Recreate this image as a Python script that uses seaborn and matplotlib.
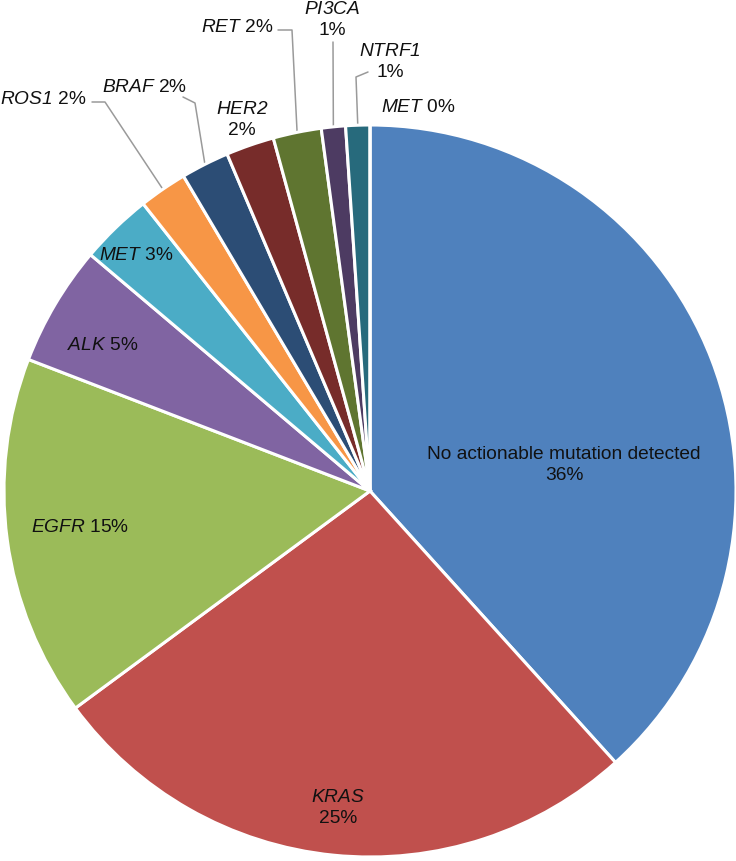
import numpy as np
import seaborn as sns
import matplotlib.pyplot as plt

# Données (ordre horaire depuis le haut)
genes = ['No actionable mutation detected', 'KRAS', 'EGFR', 'ALK', 'MET', 'ROS1',
         'BRAF', 'HER2', 'RET', 'PI3CA', 'NTRF1', 'MET']
percents = [36, 25, 15, 5, 3, 2, 2, 2, 2, 1, 1, 0]
colors = ['#4F81BD', '#C0504D', '#9BBB59', '#8064A2', '#4BACC6', '#F79646',
          '#2C4D75', '#772C2A', '#5F7530', '#4D3B62', '#276A7C', '#4F81BD']

sns.set_style('white')
plt.rcParams['font.family'] = ['Liberation Sans', 'DejaVu Sans']
plt.rcParams['mathtext.fontset'] = 'custom'
plt.rcParams['mathtext.it'] = 'Liberation Sans:italic'
plt.rcParams['mathtext.rm'] = 'Liberation Sans:italic'

W, H = 736, 861
cx, cy, R = 370, 491, 366

fig = plt.figure(figsize=(W / 100, H / 100), dpi=100)
ax = fig.add_axes([0, 0, 1, 1])
wedges, _ = ax.pie(percents, colors=colors, startangle=-90, counterclock=True,
                   center=(cx, cy), radius=R,
                   wedgeprops=dict(edgecolor='white', linewidth=2.2))
ax.set_xlim(0, W)
ax.set_ylim(H, 0)
ax.axis('off')


def lab(i, multiline=False):
    g = genes[i]
    p = f'{percents[i]}%'
    if i == 0:
        return f'{g}\n{p}'
    sep = '\n' if multiline else ' '
    return f'$\\mathrm{{{g}}}$' + sep + p


# position des étiquettes (pixels), et coude de la ligne de rappel
labels = {
    0: ((564, 465), True, None),
    1: ((338, 808), True, None),
    2: ((80, 528), False, None),
    3: ((103, 346), False, None),
    4: ((136, 255), False, None),
    5: ((43, 99), False, [(92, 102), (105, 102)]),
    6: ((145, 87), False, [(183, 97), (195, 103)]),
    7: ((242, 120), True, None),
    8: ((237, 27), False, [(278, 30), (292, 30)]),
    9: ((332, 20), True, [(333, 42)]),
    10: ((390, 62), True, [(368, 72), (356, 77)]),
    11: ((418, 107), False, None),
}

fs = 13.8
for i, (pos, ml, elbow) in labels.items():
    ax.text(pos[0], pos[1], lab(i, ml), ha='center', va='center',
            fontsize=fs, color='#111111', linespacing=1.3)
    if elbow:
        w = wedges[i]
        th = np.deg2rad((w.theta1 + w.theta2) / 2)
        ex, ey = cx + R * np.cos(th), cy + R * np.sin(th)
        xs = [p[0] for p in elbow] + [ex]
        ys = [p[1] for p in elbow] + [ey]
        ax.plot(xs, ys, color='#9A9A9A', linewidth=1.1, zorder=0.5)

plt.savefig('out.png', dpi=100)
